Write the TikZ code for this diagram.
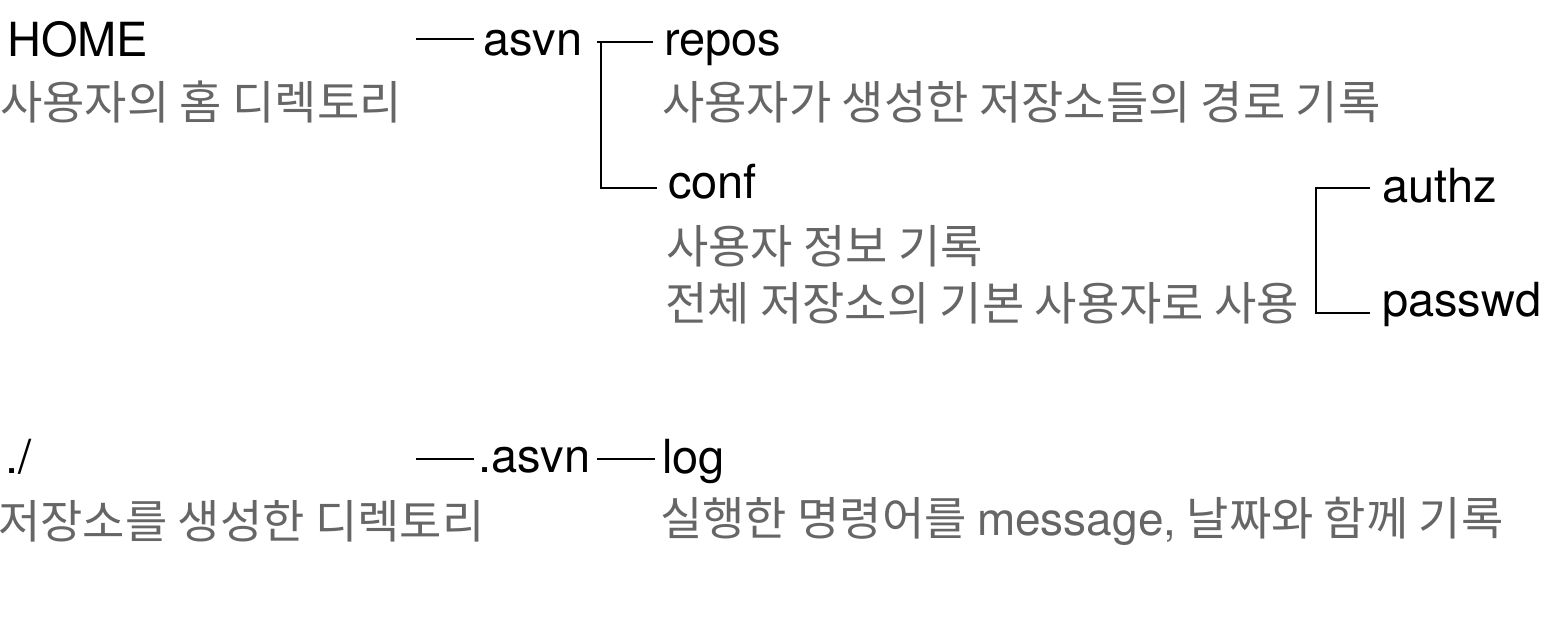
\documentclass[tikz,border=0pt]{standalone}
\usepackage{fontspec}
\setmainfont{TeX Gyre Heros}
\newfontfamily\krfont{Noto Sans CJK KR}
\definecolor{graytxt}{HTML}{666666}
\tikzset{
  dirname/.style={anchor=base west, inner sep=0pt, text=black, font=\fontsize{47bp}{50bp}\selectfont},
  desc/.style={anchor=west, inner sep=0pt, text=graytxt, font=\krfont\fontsize{46bp}{50bp}\selectfont},
  conn/.style={draw=black, line width=2.2bp},
}
\newcommand{\latmsg}[1]{{\rmfamily\fontsize{46bp}{50bp}\selectfont #1}}
\begin{document}
\begin{tikzpicture}[x=1bp,y=-1bp]
\useasboundingbox (0,0) rectangle (1549,643);
% top tree
\node[dirname] (home) at (7,57) {HOME};
\node[desc] (homed) at (0,102) {사용자의 홈 디렉토리};
\node[dirname] (asvn) at (483,56) {asvn};
\node[dirname] (repos) at (664,56) {repos};
\node[desc] (reposd) at (662,102) {사용자가 생성한 저장소들의 경로 기록};
\node[dirname] (conf) at (668,199) {conf};
\node[desc] (confd1) at (666,246) {사용자 정보 기록};
\node[desc] (confd2) at (665,303) {전체 저장소의 기본 사용자로 사용};
\node[dirname] (authz) at (1382,203) {authz};
\node[dirname] (passwd) at (1382,316) {passwd};
% bottom tree
\node[dirname] (dot) at (5,473) {./};
\node[desc] (dotd) at (-2,521) {저장소를 생성한 디렉토리};
\node[dirname] (dasvn) at (478,472) {.asvn};
\node[dirname] (log) at (662,473) {log};
\node[desc] (logd) at (660,521) {실행한 명령어를 \latmsg{message,} 날짜와 함께 기록};
% connectors
\coordinate (a0) at (416,39);
\draw[conn] (a0) -- ([xshift=-9bp]asvn.base west |- a0);
\coordinate (bk) at (601,42);
\draw[conn] ([xshift=-4bp]bk) -- ([xshift=-11bp]repos.base west |- bk);
\draw[conn] (bk) -- (bk |- 0,188) -- ([xshift=-11bp]conf.base west |- 0,188);
\coordinate (ck) at (1316,188);
\draw[conn] ([xshift=-12bp]authz.base west |- ck) -- (ck) -- (ck |- 0,313) -- ([xshift=-12bp]passwd.base west |- 0,313);
\coordinate (d0) at (416,459);
\draw[conn] (d0) -- ([xshift=-4bp]dasvn.base west |- d0);
\draw[conn] ([xshift=6bp]dasvn.base east |- d0) -- ([xshift=-7bp]log.base west |- d0);
\end{tikzpicture}
\end{document}
